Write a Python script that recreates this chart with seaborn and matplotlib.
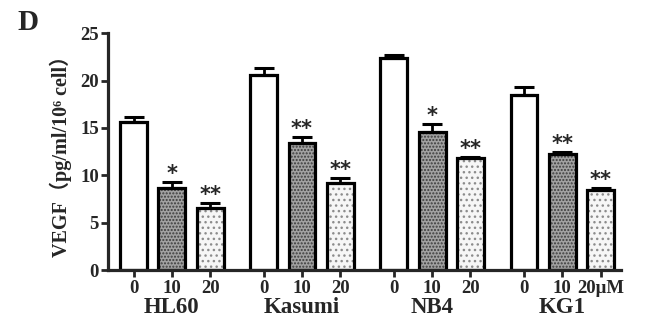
import numpy as np
import pandas as pd
import seaborn as sns
import matplotlib.pyplot as plt

# values
cells = ['HL60', 'Kasumi', 'NB4', 'KG1']
doses = ['0', '10', '20']
vegf = [15.6, 8.7, 6.6,
        20.6, 13.4, 9.2,
        22.4, 14.6, 11.8,
        18.5, 12.2, 8.4]
sem = [0.5, 0.6, 0.5,
       0.7, 0.6, 0.5,
       0.3, 0.8, 0.15,
       0.8, 0.3, 0.25]
sig = ['', '*', '**',
       '', '**', '**',
       '', '*', '**',
       '', '**', '**']
dose_ticks = ['0', '10', '20', '0', '10', '20', '0', '10', '20', '0', '10', '20\u03bcM']

sns.set_style('ticks')
plt.rcParams['font.family'] = ['Liberation Serif', 'Noto Sans CJK SC', 'DejaVu Sans']
plt.rcParams['font.weight'] = 'bold'
plt.rcParams['hatch.linewidth'] = 1.0

group_gap = 3.4
rows = []
for gi, cell in enumerate(cells):
    for di, dose in enumerate(doses):
        k = gi * 3 + di
        rows.append({'cell': cell, 'dose': dose, 'pos': gi * group_gap + di,
                     'vegf': vegf[k], 'sem': sem[k], 'sig': sig[k]})
df = pd.DataFrame(rows)

fills = {'0': 'white', '10': '#a2a2a2', '20': '#f6f6f6'}
dots = {'0': 'white', '10': '#3c3c3c', '20': '#8c8c8c'}
hatches = {'0': '', '10': '.....', '20': '...'}

fig = plt.figure(figsize=(6.54, 3.25), dpi=100)
ax = fig.add_axes([0.165, 0.169, 0.785, 0.729])

# filled, dotted bars
sns.barplot(data=df, x='pos', y='vegf', hue='dose', hue_order=doses, palette=fills,
            native_scale=True, width=0.7, dodge=False, legend=False, ax=ax)
for dose, cont in zip(doses, ax.containers):
    for bar in cont:
        bar.set_edgecolor(dots[dose])
        bar.set_hatch(hatches[dose])
        bar.set_linewidth(0)

# black outlines on top
sns.barplot(data=df, x='pos', y='vegf', native_scale=True, width=0.7, fill=False,
            color='black', linewidth=2.3, ax=ax)

ax.errorbar(df['pos'], df['vegf'], yerr=[np.zeros(len(df)), df['sem']], fmt='none',
            ecolor='black', elinewidth=2, capsize=7, capthick=2.2, zorder=5)

for _, r in df.iterrows():
    if r['sig']:
        ax.text(r['pos'], r['vegf'] + r['sem'] + 0.85, r['sig'], ha='center', va='center',
                fontsize=15, fontweight='bold', family='DejaVu Sans')

ax.set_ylim(0, 25)
ax.set_xlim(df['pos'].min() - 0.67, df['pos'].max() + 0.54)
ax.set_yticks(range(0, 26, 5))
ax.set_xticks(df['pos'])
ax.set_xticklabels(dose_ticks)
ax.tick_params(axis='both', width=2, length=5)
ax.tick_params(axis='x', labelsize=13.5, pad=2.5)
ax.tick_params(axis='y', labelsize=13.5, pad=1.5)

for gi, cell in enumerate(cells):
    ax.text(gi * group_gap + 1, -0.16, cell, transform=ax.get_xaxis_transform(),
            ha='center', va='center', fontsize=16.5, fontweight='bold')

ax.set_xlabel('')
ax.set_ylabel('VEGF\uff08pg/ml/10\u2076 cell\uff09', fontsize=14.5, fontweight='bold', labelpad=6)

for side in ['top', 'right']:
    ax.spines[side].set_visible(False)
for side in ['left', 'bottom']:
    ax.spines[side].set_linewidth(2.3)

fig.text(0.043, 0.932, 'D', fontsize=21, fontweight='bold', va='center', ha='center')

fig.savefig('out.png', dpi=100)
